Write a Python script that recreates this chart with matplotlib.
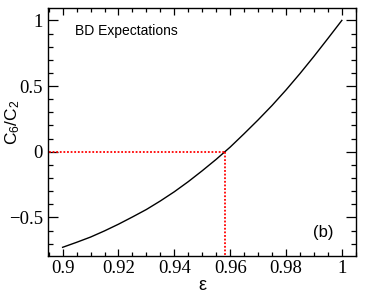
import matplotlib
matplotlib.use("Agg")
import matplotlib.pyplot as plt
from matplotlib.ticker import MultipleLocator, FuncFormatter

plt.rcParams["mathtext.fontset"] = "custom"
plt.rcParams["mathtext.rm"] = "Liberation Sans"
plt.rcParams["mathtext.it"] = "Liberation Sans:italic"

# data
eps = [0.900, 0.905, 0.910, 0.915, 0.920, 0.925, 0.930, 0.935, 0.940, 0.945,
       0.950, 0.955, 0.960, 0.965, 0.970, 0.975, 0.980, 0.985, 0.990, 0.995, 1.000]
ratio = [-0.728, -0.690, -0.650, -0.603, -0.552, -0.497, -0.440, -0.375, -0.305, -0.228,
         -0.145, -0.058, 0.035, 0.137, 0.242, 0.352, 0.470, 0.595, 0.726, 0.862, 1.000]
eps_zero = 0.958

fig = plt.figure(figsize=(3.78, 2.97), dpi=100)
ax = fig.add_axes([0.128, 0.139, 0.814, 0.833])

ax.plot(eps, ratio, color="black", lw=1.0)
ax.plot([0.895, eps_zero], [0, 0], color="red", lw=1.3, ls=(0, (1, 1)))
ax.plot([eps_zero, eps_zero], [0, -0.79], color="red", lw=1.3, ls=(0, (1, 1)))

ax.set_xlim(0.8949, 1.0051)
ax.set_ylim(-0.792, 1.092)

ax.xaxis.set_major_locator(MultipleLocator(0.02))
ax.xaxis.set_minor_locator(MultipleLocator(0.005))
ax.yaxis.set_major_locator(MultipleLocator(0.5))
ax.yaxis.set_minor_locator(MultipleLocator(0.1))

def fmt(v, pos):
    s = f"{v:.2f}".rstrip("0").rstrip(".")
    if s in ("-0", "0"):
        s = "0"
    return s.replace("-", "\u2212")

ax.xaxis.set_major_formatter(FuncFormatter(fmt))
ax.yaxis.set_major_formatter(FuncFormatter(fmt))

ax.tick_params(axis="both", which="both", direction="in", top=True, right=True,
               labelsize=13.5, width=0.9)
ax.tick_params(axis="x", which="major", length=5, pad=3)
ax.tick_params(axis="x", which="minor", length=2.6)
ax.tick_params(axis="y", which="major", length=7.2, pad=4)
ax.tick_params(axis="y", which="minor", length=3.6)
for lab in ax.get_xticklabels() + ax.get_yticklabels():
    lab.set_family("Liberation Serif")
for s in ax.spines.values():
    s.set_linewidth(1.0)

ax.set_xlabel("\u03b5", family="Liberation Sans", fontsize=13, labelpad=0)
ax.set_ylabel("C$_{6}$/C$_{2}$", family="Liberation Sans", fontsize=12.5)
ax.yaxis.set_label_coords(-0.085, 0.54)

ax.text(0.086, 0.91, "BD Expectations", transform=ax.transAxes, family="Liberation Sans",
        fontsize=10, ha="left", va="center")
ax.text(0.86, 0.095, "(b)", transform=ax.transAxes, family="Liberation Sans",
        fontsize=12, ha="left", va="center")

fig.savefig("out.png", dpi=100)
